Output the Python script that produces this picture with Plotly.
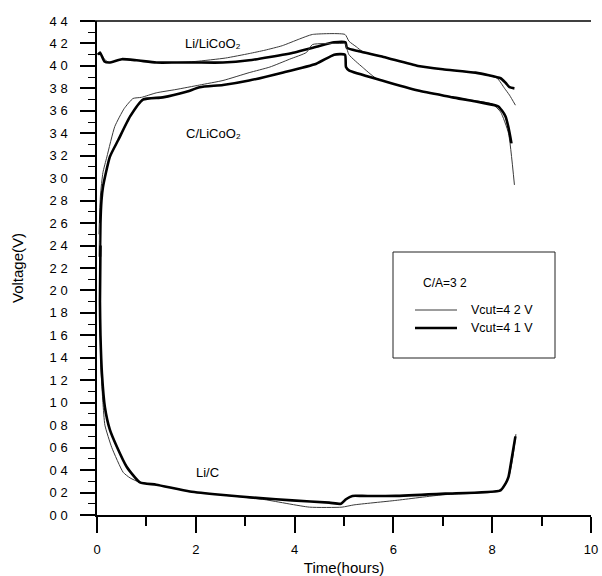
import plotly.graph_objects as go

# ---------------- data ----------------
li_lco_42_x = [0.02, 0.06, 0.15, 0.25, 0.5, 0.8, 1.2, 1.6, 2.0, 2.6, 3.08, 3.4, 3.75, 4.1, 4.36, 5.02, 5.1, 5.25, 5.37, 5.8, 6.5, 7.0, 7.66, 8.1, 8.25, 8.35, 8.47]
li_lco_42_y = [4.10, 4.12, 4.06, 4.03, 4.06, 4.05, 4.03, 4.03, 4.04, 4.07, 4.11, 4.14, 4.18, 4.24, 4.28, 4.28, 4.22, 4.17, 4.13, 4.08, 4.00, 3.97, 3.94, 3.89, 3.80, 3.74, 3.65]

li_lco_41_x = [0.02, 0.06, 0.15, 0.25, 0.5, 0.8, 1.2, 1.6, 2.0, 2.55, 3.08, 3.5, 4.0, 4.44, 4.8, 5.03, 5.06, 5.3, 5.8, 6.5, 7.0, 7.66, 8.17, 8.27, 8.35, 8.45]
li_lco_41_y = [4.10, 4.12, 4.04, 4.03, 4.06, 4.05, 4.03, 4.03, 4.03, 4.03, 4.05, 4.08, 4.12, 4.17, 4.21, 4.21, 4.16, 4.13, 4.08, 4.00, 3.97, 3.94, 3.89, 3.85, 3.81, 3.80]

c_lco_42_x = [0.04, 0.07, 0.12, 0.2, 0.36, 0.55, 0.73, 0.9, 1.2, 1.6, 2.08, 2.55, 3.08, 3.5, 3.9, 4.24, 4.36, 4.94, 5.02, 5.1, 5.37, 5.65, 6.5, 7.2, 8.0, 8.17, 8.33, 8.45]
c_lco_42_y = [2.50, 2.85, 3.05, 3.19, 3.46, 3.62, 3.71, 3.72, 3.76, 3.79, 3.83, 3.87, 3.94, 3.99, 4.06, 4.12, 4.19, 4.20, 4.20, 4.10, 3.99, 3.89, 3.78, 3.72, 3.66, 3.59, 3.40, 2.94]

c_lco_41_x = [0.06, 0.07, 0.09, 0.12, 0.26, 0.43, 0.67, 0.93, 1.33, 1.81, 2.08, 2.55, 3.08, 3.75, 4.44, 4.8, 5.02, 5.04, 5.1, 5.77, 6.5, 7.2, 8.12, 8.2, 8.27, 8.33, 8.39]
c_lco_41_y = [2.30, 2.60, 2.80, 2.92, 3.19, 3.34, 3.55, 3.70, 3.72, 3.77, 3.81, 3.83, 3.87, 3.94, 4.02, 4.10, 4.10, 3.99, 3.96, 3.87, 3.78, 3.72, 3.64, 3.60, 3.55, 3.45, 3.31]

li_c_42_x = [0.05, 0.06, 0.08, 0.12, 0.16, 0.3, 0.53, 0.67, 0.87, 1.2, 1.88, 2.5, 3.35, 4.3, 4.96, 5.2, 6.05, 7.0, 8.1, 8.25, 8.35, 8.42, 8.48]
li_c_42_y = [2.60, 1.80, 1.30, 1.00, 0.80, 0.60, 0.38, 0.33, 0.29, 0.27, 0.21, 0.18, 0.14, 0.07, 0.07, 0.09, 0.13, 0.18, 0.21, 0.26, 0.36, 0.52, 0.72]

li_c_41_x = [0.07, 0.06, 0.07, 0.1, 0.16, 0.26, 0.4, 0.6, 0.87, 1.2, 1.88, 2.5, 3.3, 3.95, 4.7, 4.94, 5.04, 5.17, 5.37, 6.05, 7.05, 8.17, 8.27, 8.33, 8.39, 8.47]
li_c_41_y = [2.40, 1.90, 1.60, 1.26, 0.96, 0.76, 0.61, 0.43, 0.29, 0.27, 0.21, 0.18, 0.15, 0.13, 0.11, 0.10, 0.14, 0.17, 0.17, 0.17, 0.19, 0.22, 0.28, 0.34, 0.49, 0.70]

x_tickvals = [0, 2, 4, 6, 8, 10]
y_tickvals = [round(0.2 * i, 1) for i in range(23)]
y_ticktext = ["0 0", "0 2", "0 4", "0 6", "0 8", "1 0", "1 2", "1 4", "1 6", "1 8", "2 0", "2 2",
              "2 4", "2 6", "2 8", "3 0", "3 2", "3 4", "3 6", "3 8", "4 0", "4 2", "4 4"]

legend_title = "C/A=3 2"
legend_labels = ["Vcut=4 2 V", "Vcut=4 1 V"]

# ---------------- styling ----------------
FONT = "Arial, Liberation Sans, sans-serif"
W, H = 602, 576
L, R, T, B = 97, 11, 21, 61
PW, PH = W - L - R, H - T - B

def px(xp):
    return (xp - L) / PW

def py(yp):
    return (H - B - yp) / PH

thin = dict(color="#3a3a3a", width=1)
thick = dict(color="black", width=2.6)

fig = go.Figure()
for xs, ys, ln in [
    (li_lco_42_x, li_lco_42_y, thin), (li_lco_41_x, li_lco_41_y, thick),
    (c_lco_42_x, c_lco_42_y, thin), (c_lco_41_x, c_lco_41_y, thick),
    (li_c_42_x, li_c_42_y, thin), (li_c_41_x, li_c_41_y, thick),
]:
    fig.add_trace(go.Scatter(x=xs, y=ys, mode="lines", line=dict(shape="spline", smoothing=0.5, **ln),
                             showlegend=False, hoverinfo="skip"))

axis_common = dict(showgrid=False, zeroline=False, showline=True, linecolor="black", linewidth=1.5,
                   ticks="outside", tickcolor="black", tickwidth=1.5, automargin=False,
                   tickfont=dict(family=FONT, size=13, color="black"))

fig.update_layout(
    width=W, height=H, margin=dict(l=L, r=R, t=T, b=B, autoexpand=False),
    paper_bgcolor="white", plot_bgcolor="white",
    font=dict(family=FONT, color="black"),
    xaxis=dict(range=[0, 10], tickmode="array", tickvals=x_tickvals, ticklen=16,
               ticklabelstandoff=6,
               minor=dict(dtick=1, ticklen=9, ticks="outside", tickcolor="black", tickwidth=1.5),
               title=dict(text="Time(hours)", font=dict(family=FONT, size=15), standoff=6),
               **axis_common),
    yaxis=dict(range=[0, 4.4], tickmode="array", tickvals=y_tickvals, ticktext=y_ticktext, ticklen=15,
               ticklabelstandoff=10,
               minor=dict(dtick=0.1, ticklen=7, ticks="outside", tickcolor="black", tickwidth=1.2),
               title=dict(text="Voltage(V)", font=dict(family=FONT, size=15), standoff=22),
               **axis_common),
)

shapes = [
    # top frame line and axis-line extensions
    dict(type="line", xref="paper", yref="paper", x0=px(82), x1=1.0, y0=1, y1=1, line=dict(color="black", width=1.5)),
    dict(type="line", xref="paper", yref="paper", x0=px(82), x1=0, y0=0, y1=0, line=dict(color="black", width=1.5)),
    dict(type="line", xref="paper", yref="paper", x0=0, x1=0, y0=0, y1=py(530), line=dict(color="black", width=1.5)),
    # legend box
    dict(type="rect", xref="paper", yref="paper", x0=px(393), x1=px(555), y0=py(358), y1=py(252),
         line=dict(color="#222", width=1), fillcolor="white", layer="above"),
    dict(type="line", xref="paper", yref="paper", x0=px(415), x1=px(457), y0=py(310), y1=py(310),
         line=thin, layer="above"),
    dict(type="line", xref="paper", yref="paper", x0=px(415), x1=px(457), y0=py(328), y1=py(328),
         line=thick, layer="above"),
]
fig.update_layout(shapes=shapes)

annotations = [
    dict(text="Li/LiCoO₂", x=2.35, y=4.20, xref="x", yref="y", showarrow=False,
         font=dict(family=FONT, size=13)),
    dict(text="C/LiCoO₂", x=2.35, y=3.40, xref="x", yref="y", showarrow=False,
         font=dict(family=FONT, size=13)),
    dict(text="Li/C", x=2.23, y=0.38, xref="x", yref="y", showarrow=False,
         font=dict(family=FONT, size=13)),
    dict(text=legend_title, x=px(469), y=py(283), xref="paper", yref="paper", showarrow=False,
         font=dict(family=FONT, size=12)),
    dict(text=legend_labels[0], x=px(469), y=py(310), xref="paper", yref="paper", showarrow=False,
         xanchor="left", font=dict(family=FONT, size=12.5)),
    dict(text=legend_labels[1], x=px(469), y=py(328), xref="paper", yref="paper", showarrow=False,
         xanchor="left", font=dict(family=FONT, size=12.5)),
]
fig.update_layout(annotations=annotations)

# remove the browser's default 8px page margin so the figure fills the window exactly
fig.write_html("out.html", config={"displayModeBar": False},
               post_script="document.body.style.margin='0';document.body.style.overflow='hidden';")
